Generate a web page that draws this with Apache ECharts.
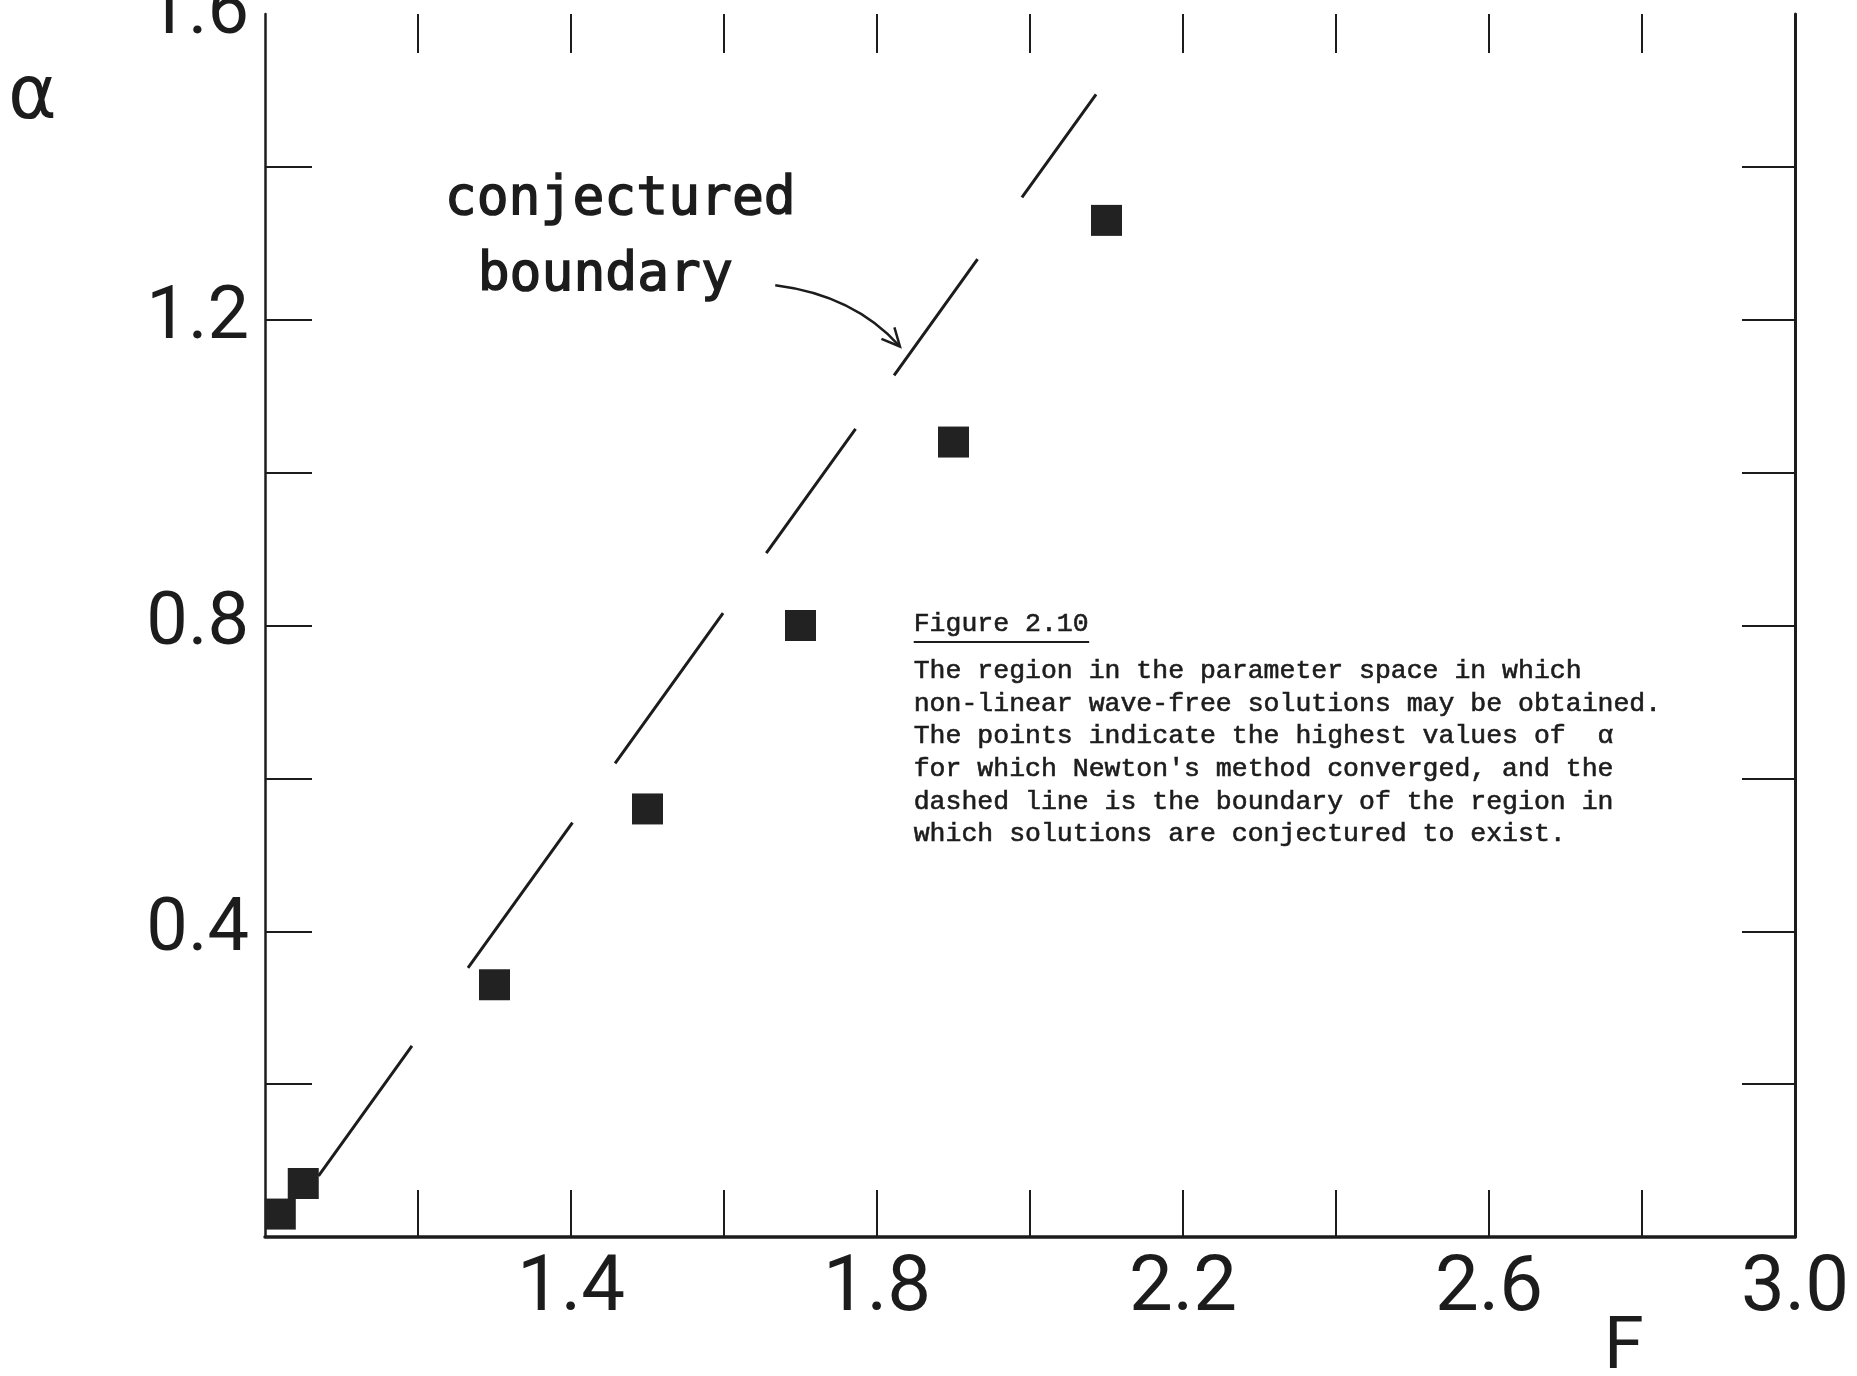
<!DOCTYPE html>
<html>
<head>
<meta charset="utf-8">
<title>Figure 2.10</title>
<script src="https://cdn.jsdelivr.net/npm/echarts@6/dist/echarts.min.js"></script>
<style>
  html, body { margin: 0; padding: 0; background: #ffffff; }
  #chart { width: 1857px; height: 1376px; }
</style>
</head>
<body>
<div id="chart"></div>
<script>
// Highest α for which Newton's method converged, at each Froude number F
const froude = [1.02, 1.05, 1.3, 1.5, 1.7, 1.9, 2.1];
const alphaMax = [0.03, 0.07, 0.33, 0.56, 0.80, 1.04, 1.33];

// Conjectured boundary of the solution region (straight dashed line)
const boundaryF = [1.07, 2.09];
const boundaryAlpha = [0.08, 1.50];

// Axis ranges, tick marks and labelled ticks
const xRange = [1.0, 3.0];
const yRange = [0.0, 1.6];
const tickStep = 0.2;
const xTickMarks = [1.2, 1.4, 1.6, 1.8, 2.0, 2.2, 2.4, 2.6, 2.8];
const yTickMarks = [0.2, 0.4, 0.6, 0.8, 1.0, 1.2, 1.4];
const xTickLabels = [1.4, 1.8, 2.2, 2.6, 3.0];
const yTickLabels = [0.4, 0.8, 1.2, 1.6];

// Annotation text
const annotationLines = ['conjectured', 'boundary'];
const captionTitle = 'Figure 2.10';
const captionLines = [
  'The region in the parameter space in which',
  'non-linear wave-free solutions may be obtained.',
  'The points indicate the highest values of  \u03b1',
  "for which Newton's method converged, and the",
  'dashed line is the boundary of the region in',
  'which solutions are conjectured to exist.'
];

const INK = '#1c1c1c';
const LETTER_FONT = "Roboto, 'Liberation Sans', sans-serif";
const SANS_FONT = "'DejaVu Sans', 'Noto Sans', sans-serif";
const STENCIL_FONT = "'DejaVu Sans Mono', 'Liberation Mono', monospace";
const MONO_FONT = "'Liberation Mono', 'DejaVu Sans Mono', monospace";

// pen-drawn dash rhythm of the boundary line (dash, gap, dash, ...)
const BOUNDARY_DASHES = [160, 96, 179, 73, 185, 74, 153, 66, 143, 76, 127, 600];

const near = (list, v) => list.some(t => Math.abs(t - v) < 1e-6);

const chart = echarts.init(document.getElementById('chart'), null, { renderer: 'canvas' });

const option = {
  backgroundColor: '#ffffff',
  animation: false,
  grid: { left: 265, right: 62, top: 14, bottom: 139, containLabel: false, outerBoundsMode: 'none' },
  xAxis: [
    {
      type: 'value', position: 'bottom', min: xRange[0], max: xRange[1], interval: tickStep,
      splitLine: { show: false },
      axisLine: { show: true, onZero: false, lineStyle: { color: INK, width: 3.5 } },
      axisTick: { show: true, inside: true, length: 47, customValues: xTickMarks, lineStyle: { color: INK, width: 2 } },
      axisLabel: {
        show: true, margin: 14, color: INK,
        fontFamily: LETTER_FONT, fontSize: 78,
        showMinLabel: true, showMaxLabel: true,
        formatter: v => near(xTickLabels, v) ? v.toFixed(1) : ''
      }
    },
    {
      type: 'value', position: 'top', min: xRange[0], max: xRange[1], interval: tickStep,
      splitLine: { show: false },
      axisLine: { show: false, onZero: false },
      axisTick: { show: true, inside: true, length: 39, customValues: xTickMarks, lineStyle: { color: INK, width: 2 } },
      axisLabel: { show: false }
    }
  ],
  yAxis: [
    {
      type: 'value', position: 'left', min: yRange[0], max: yRange[1], interval: tickStep,
      splitLine: { show: false },
      axisLine: { show: true, onZero: false, lineStyle: { color: INK, width: 2.5 } },
      axisTick: { show: true, inside: true, length: 47, customValues: yTickMarks, lineStyle: { color: INK, width: 2 } },
      axisLabel: {
        show: true, margin: 16, color: INK,
        fontFamily: LETTER_FONT, fontSize: 74,
        showMinLabel: true, showMaxLabel: true,
        formatter: v => near(yTickLabels, v) ? v.toFixed(1) : ''
      }
    },
    {
      type: 'value', position: 'right', min: yRange[0], max: yRange[1], interval: tickStep,
      splitLine: { show: false },
      axisLine: { show: true, onZero: false, lineStyle: { color: INK, width: 3 } },
      axisTick: { show: true, inside: true, length: 53, customValues: yTickMarks, lineStyle: { color: INK, width: 2 } },
      axisLabel: { show: false }
    }
  ],
  series: [
    {
      name: 'conjectured boundary',
      type: 'line',
      xAxisIndex: 0, yAxisIndex: 0,
      data: boundaryF.map((f, i) => [f, boundaryAlpha[i]]),
      symbol: 'none',
      lineStyle: { color: INK, width: 3, type: BOUNDARY_DASHES },
      z: 2
    },
    {
      name: 'Newton converged',
      type: 'scatter',
      xAxisIndex: 0, yAxisIndex: 0,
      data: froude.map((f, i) => [f, alphaMax[i]]),
      symbol: 'rect',
      symbolSize: 31,
      itemStyle: { color: '#222222', opacity: 1 },
      z: 3
    }
  ]
};

chart.setOption(option);

// Annotations anchored in data coordinates
const px = (f, a) => chart.convertToPixel({ xAxisIndex: 0, yAxisIndex: 0 }, [f, a]);

const c1 = px(1.235, 1.357);
const c2 = px(1.278, 1.2565);
const arrowStart = px(1.667, 1.245);
const arrowCtrl = px(1.77, 1.232);
const arrowTip = px(1.83, 1.165);
const capAnchor = px(1.848, 0.802);

// arrowhead barbs along the incoming direction
const dx = arrowTip[0] - arrowCtrl[0], dy = arrowTip[1] - arrowCtrl[1];
const len = Math.hypot(dx, dy);
const ux = dx / len, uy = dy / len;
const barb = 20, spread = 0.45;
const rot = (x, y, t) => [x * Math.cos(t) - y * Math.sin(t), x * Math.sin(t) + y * Math.cos(t)];
const b1 = rot(-ux, -uy, spread), b2 = rot(-ux, -uy, -spread);

const captionWidth = 11 * 15.95;
const monoStyle = { font: '26.5px ' + MONO_FONT, fill: INK, stroke: INK, lineWidth: 0.6 };
const stencilStyle = { font: '53px ' + STENCIL_FONT, fill: INK, stroke: INK, lineWidth: 1.4, textVerticalAlign: 'middle' };

chart.setOption({
  graphic: [
    {
      type: 'text', left: 8, top: 62,
      style: { text: '\u03b1', font: '74px ' + SANS_FONT, fill: INK }
    },
    {
      type: 'text', left: 1604, top: 1314,
      style: { text: 'F', font: '72px ' + LETTER_FONT, fill: INK }
    },
    {
      type: 'text', x: c1[0], y: c1[1],
      style: Object.assign({ text: annotationLines[0] }, stencilStyle)
    },
    {
      type: 'text', x: c2[0], y: c2[1],
      style: Object.assign({ text: annotationLines[1] }, stencilStyle)
    },
    {
      type: 'bezierCurve',
      shape: { x1: arrowStart[0], y1: arrowStart[1], x2: arrowTip[0], y2: arrowTip[1], cpx1: arrowCtrl[0], cpy1: arrowCtrl[1] },
      style: { stroke: INK, lineWidth: 2.5, fill: null }
    },
    {
      type: 'polyline',
      shape: { points: [
        [arrowTip[0] + b1[0] * barb, arrowTip[1] + b1[1] * barb],
        arrowTip,
        [arrowTip[0] + b2[0] * barb, arrowTip[1] + b2[1] * barb]
      ] },
      style: { stroke: INK, lineWidth: 2.5, fill: null }
    },
    {
      type: 'text', x: capAnchor[0], y: capAnchor[1],
      style: Object.assign({ text: captionTitle, textVerticalAlign: 'middle' }, monoStyle)
    },
    {
      type: 'line',
      shape: { x1: capAnchor[0], y1: capAnchor[1] + 18, x2: capAnchor[0] + captionWidth, y2: capAnchor[1] + 18 },
      style: { stroke: INK, lineWidth: 2 }
    },
    {
      type: 'text', x: capAnchor[0], y: capAnchor[1] + 31,
      style: Object.assign({ text: captionLines.join('\n'), lineHeight: 32.6 }, monoStyle)
    }
  ]
});
</script>
</body>
</html>
